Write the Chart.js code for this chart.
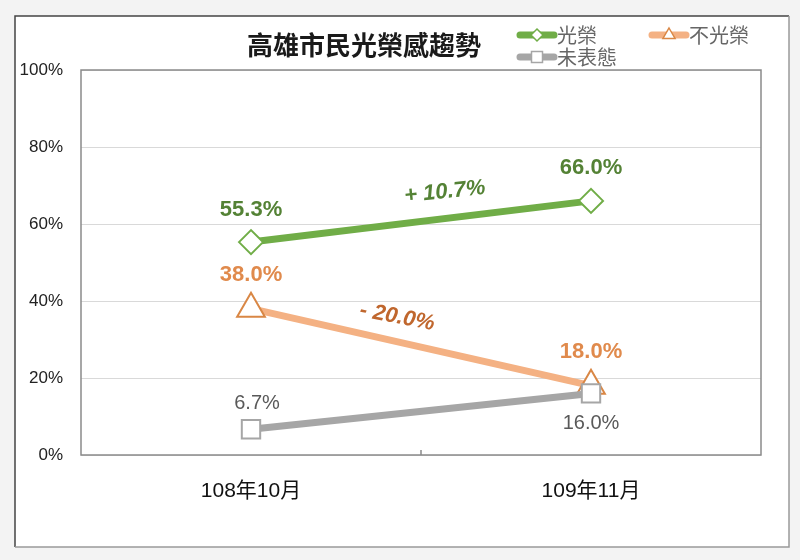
<!DOCTYPE html>
<html><head><meta charset="utf-8">
<script src="https://cdn.jsdelivr.net/npm/chart.js@4.4.1/dist/chart.umd.min.js"></script>
<style>html,body{margin:0;padding:0;background:#f3f3f3;}#wrap{width:800px;height:560px;}</style>
</head><body><div id="wrap"><canvas id="c" width="800" height="560"></canvas></div>
<script>
// ---- data ----
const chartTitle = '高雄市民光榮感趨勢';
const categories = ['108年10月', '109年11月'];
const seriesNames = ['光榮', '不光榮', '未表態'];
const proud = [55.3, 66.0];
const notProud = [38.0, 18.0];
const noOpinion = [6.7, 16.0];
const yTicks = [0, 20, 40, 60, 80, 100];

// ---- styles ----
const SANS = '"Liberation Sans", Arial, "Noto Sans CJK TC", sans-serif';
const CJK = '"Noto Sans CJK TC", "Liberation Sans", sans-serif';
const styles = [
  {line:'#70ad47', stroke:'#70ad47', point:'rectRot', r:12, label:'#548235', font:'bold 22px ' + SANS},
  {line:'#f4b183', stroke:'#d98745', point:'triangle', r:16, label:'#e08a4c', font:'bold 22px ' + SANS},
  {line:'#a6a6a6', stroke:'#a6a6a6', point:'rect', r:13, label:'#595959', font:'20px ' + SANS}
];
const labelPlacement = [
  [{dx:0, dy:-32}, {dx:0, dy:-33}],
  [{dx:0, dy:-34}, {dx:0, dy:-34}],
  [{dx:6, dy:-26}, {dx:0, dy:30}]
];
const changeNotes = [
  {series:0, at:0.57, v:68.3, rot:-6, color:'#548235'},
  {series:1, at:0.43, v:35.8, rot:11, color:'#c0672e'}
];
const allSeries = [proud, notProud, noOpinion];

function smallMarker(ctx, type, x, y, stroke) {
  ctx.save();
  ctx.fillStyle = '#fff'; ctx.strokeStyle = stroke; ctx.lineWidth = 1.5;
  ctx.beginPath();
  if (type === 'rectRot') {
    const r = 6; ctx.moveTo(x, y - r); ctx.lineTo(x + r, y); ctx.lineTo(x, y + r); ctx.lineTo(x - r, y); ctx.closePath();
  } else if (type === 'triangle') {
    const r = 7; ctx.moveTo(x, y - r); ctx.lineTo(x + r * 0.866, y + r / 2); ctx.lineTo(x - r * 0.866, y + r / 2); ctx.closePath();
  } else {
    const s = 5.5; ctx.rect(x - s, y - s, 2 * s, 2 * s);
  }
  ctx.fill(); ctx.stroke();
  ctx.restore();
}

const decor = {
  id: 'decor',
  beforeDraw(chart) {
    const ctx = chart.ctx;
    ctx.save();
    ctx.fillStyle = '#f3f3f3'; ctx.fillRect(0, 0, chart.width, chart.height);
    ctx.fillStyle = '#ffffff'; ctx.fillRect(15, 16, 774, 531);
    ctx.lineWidth = 1.5;
    ctx.strokeStyle = '#444';
    ctx.beginPath(); ctx.moveTo(15, 547); ctx.lineTo(15, 16); ctx.lineTo(789, 16); ctx.stroke();
    ctx.strokeStyle = '#9a9a9a';
    ctx.beginPath(); ctx.moveTo(789, 16); ctx.lineTo(789, 547); ctx.lineTo(15, 547); ctx.stroke();
    ctx.restore();
  },
  beforeDatasetsDraw(chart) {
    const ctx = chart.ctx, a = chart.chartArea, xs = chart.scales.x;
    ctx.save();
    ctx.strokeStyle = '#8a8a8a'; ctx.lineWidth = 1.5;
    ctx.strokeRect(a.left, a.top, a.right - a.left, a.bottom - a.top);
    const mid = (xs.getPixelForValue(0) + xs.getPixelForValue(1)) / 2;
    ctx.beginPath(); ctx.moveTo(mid, a.bottom); ctx.lineTo(mid, a.bottom - 5); ctx.stroke();
    ctx.restore();
  },
  afterDraw(chart) {
    const ctx = chart.ctx, xs = chart.scales.x, ys = chart.scales.y;
    ctx.save();
    // data labels
    chart.data.datasets.forEach((ds, di) => {
      const meta = chart.getDatasetMeta(di);
      ctx.font = styles[di].font; ctx.fillStyle = styles[di].label;
      ctx.textAlign = 'center'; ctx.textBaseline = 'middle';
      meta.data.forEach((pt, i) => {
        const p = labelPlacement[di][i];
        ctx.fillText(ds.data[i].toFixed(1) + '%', pt.x + p.dx, pt.y + p.dy);
      });
    });
    // change annotations
    changeNotes.forEach(n => {
      const s = allSeries[n.series];
      const d = s[1] - s[0];
      const txt = (d >= 0 ? '+ ' : '- ') + Math.abs(d).toFixed(1) + '%';
      const x0 = xs.getPixelForValue(0), x1 = xs.getPixelForValue(1);
      const x = x0 + (x1 - x0) * n.at, y = ys.getPixelForValue(n.v);
      ctx.save();
      ctx.translate(x, y); ctx.rotate(n.rot * Math.PI / 180);
      ctx.font = 'italic bold 22px ' + SANS; ctx.fillStyle = n.color;
      ctx.textAlign = 'center'; ctx.textBaseline = 'middle';
      ctx.fillText(txt, 0, 0);
      ctx.restore();
    });
    // title
    ctx.font = 'bold 26px ' + CJK; ctx.fillStyle = '#1a1a1a';
    ctx.textAlign = 'center'; ctx.textBaseline = 'middle';
    ctx.fillText(chartTitle, 364, 45);
    // legend
    const leg = [{x:517, y:35}, {x:649, y:35}, {x:517, y:57}];
    seriesNames.forEach((name, i) => {
      const L = leg[i];
      ctx.save();
      ctx.strokeStyle = styles[i].line; ctx.lineWidth = 7; ctx.lineCap = 'round';
      ctx.beginPath(); ctx.moveTo(L.x + 3, L.y); ctx.lineTo(L.x + 37, L.y); ctx.stroke();
      ctx.restore();
      smallMarker(ctx, styles[i].point, L.x + 20, L.y, styles[i].stroke);
      ctx.font = '20px ' + CJK; ctx.fillStyle = '#666';
      ctx.textAlign = 'left'; ctx.textBaseline = 'middle';
      ctx.fillText(name, L.x + 40, L.y);
    });
    ctx.restore();
  }
};

const datasets = allSeries.map((s, i) => ({
  label: seriesNames[i],
  data: s,
  borderColor: styles[i].line,
  borderWidth: 7,
  pointStyle: styles[i].point,
  pointRadius: styles[i].r,
  pointHoverRadius: styles[i].r,
  pointBackgroundColor: '#ffffff',
  pointBorderColor: styles[i].stroke,
  pointBorderWidth: 2,
  fill: false,
  tension: 0,
  clip: false,
  order: [1, 2, 0][i]
}));

new Chart(document.getElementById('c'), {
  type: 'line',
  data: { labels: categories, datasets },
  plugins: [decor],
  options: {
    responsive: false,
    animation: false,
    devicePixelRatio: 1,
    layout: { padding: { top: 70, right: 39, bottom: 0, left: 0 } },
    plugins: { legend: { display: false }, title: { display: false }, tooltip: { enabled: false } },
    scales: {
      x: {
        offset: true,
        grid: { display: false, drawTicks: false },
        border: { display: false },
        ticks: { padding: 24, color: '#111', font: { size: 21, family: SANS } },
        afterFit(s) { s.height = 105; }
      },
      y: {
        min: yTicks[0], max: yTicks[yTicks.length - 1],
        afterBuildTicks(s) { s.ticks = yTicks.map(v => ({ value: v })); },
        grid: { color: '#d9d9d9', lineWidth: 1, drawTicks: false },
        border: { display: false },
        ticks: { padding: 18, color: '#222', font: { size: 17, family: SANS }, callback: v => v + '%' },
        afterFit(s) { s.width = 81; }
      }
    }
  }
});
</script>
</body></html>
